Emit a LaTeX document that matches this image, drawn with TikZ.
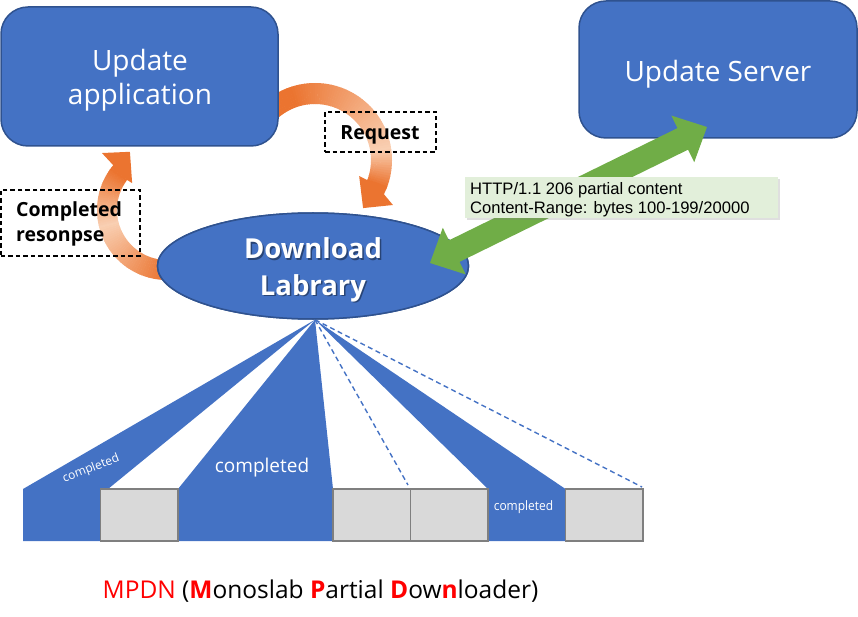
\documentclass[tikz,border=0pt]{standalone}
\usepackage{fontspec}
\setmainfont{Open Sans}
\newfontfamily\arialf{Liberation Sans}
\usetikzlibrary{calc,shapes.geometric,shadows}
\definecolor{boxblue}{HTML}{4472C4}
\definecolor{edgeblue}{HTML}{2F528F}
\definecolor{orA}{HTML}{EB7430}
\definecolor{peach}{HTML}{F9CFB2}
\definecolor{grn}{HTML}{70AD47}
\definecolor{lblgrn}{HTML}{E2EFDA}
\definecolor{cellgray}{HTML}{D9D9D9}
\definecolor{celledge}{HTML}{7F7F7F}
\definecolor{mpred}{HTML}{FF0000}
\begin{document}
\begin{tikzpicture}[x=1pt,y=-1pt,
  bigbox/.style={draw=edgeblue, line width=1.5pt, fill=boxblue, rounded corners=27pt, inner sep=0pt},
  whitetxt/.style={text=white, inner sep=0pt, anchor=base, font=\fontsize{28}{34}\selectfont},
  libtxt/.style={text=white, inner sep=0pt, anchor=base, font=\fontsize{27.5}{34}\selectfont\bfseries},
  libshadow/.style={text=black, opacity=0.4, inner sep=0pt, anchor=base, font=\fontsize{27.5}{34}\selectfont\bfseries},
  dbox/.style={draw=black, line width=1.6pt, dash pattern=on 4.5pt off 3pt, inner sep=0pt},
  boldlbl/.style={text=black, inner sep=0pt, font=\fontsize{19.5}{25}\selectfont\bfseries},
  cellbox/.style={minimum width=77.5pt, minimum height=52pt, anchor=north west, inner sep=0pt, outer sep=0pt},
  graycell/.style={fill=cellgray, draw=celledge, line width=1.8pt},
  fanfill/.style={fill=boxblue},
  fandash/.style={draw=boxblue, line width=1.4pt, dash pattern=on 5pt off 3.5pt},
  cmptxt/.style={text=white, inner sep=0pt},
  httptxt/.style={inner sep=0pt, anchor=base west, font=\arialf\fontsize{16.6}{19}\selectfont}
]
\useasboundingbox (0,0) rectangle (858,617);

% ---------- orange circular arrows ----------
\coordinate (oc1) at (315,160);
\coordinate (oc2) at (167,210);
\foreach \a in {-140,-138,...,20} {
  \pgfmathsetmacro\b{\a+2.4}
  \pgfmathsetmacro\p{\a<(-10) ? min(100,(-10-(\a))) : min(100,(\a+10)*100/30)}
  \fill[orA!\p!peach] ($(oc1)+(\a:56)$) -- ($(oc1)+(\a:77)$) -- ($(oc1)+(\b:77)$) -- ($(oc1)+(\b:56)$) -- cycle;
}
\fill[orA] ($(oc1)+(21:56)$) -- ($(oc1)+(20:47)$) -- ($(oc1)+(45:68)$) -- ($(oc1)+(30:90)$) -- ($(oc1)+(26.4:77)$) -- ($(oc1)+(21:77)$) -- cycle;

\foreach \a in {85,87,...,215} {
  \pgfmathsetmacro\b{\a+2.4}
  \pgfmathsetmacro\p{\a<165 ? min(100,(165-\a)*100/75) : min(100,(\a-165)*100/50)}
  \fill[orA!\p!peach] ($(oc2)+(\a:50)$) -- ($(oc2)+(\a:70)$) -- ($(oc2)+(\b:70)$) -- ($(oc2)+(\b:50)$) -- cycle;
}
\fill[orA] ($(oc2)+(217:50)$) -- ($(oc2)+(217.6:44)$) -- ($(oc2)+(237.5:69)$) -- ($(oc2)+(221.2:86.5)$) -- ($(oc2)+(219.8:70)$) -- ($(oc2)+(217:70)$) -- cycle;

% ---------- main shapes ----------
\node[bigbox, minimum width=277pt, minimum height=139pt] (app) at (139.5,76.5) {};
\node[bigbox, minimum width=278pt, minimum height=137pt] (srv) at (718,69.5) {};
\node[ellipse, draw=edgeblue, line width=1.5pt, fill=boxblue, minimum width=311pt, minimum height=106pt, inner sep=0pt] (lib) at (313,266) {};

% ---------- bar cells (positions) ----------
\foreach \i/\x in {1/23,2/100.5,3/178,4/255.5,5/333,6/410.5,7/488,8/565.5}
  \path node[cellbox] (c\i) at (\x,489) {};
\coordinate (apex) at ($(lib.south)+(2,0)$);

% fans
\fill[fanfill] (apex) -- (c1.north west) -- (c1.south west) -- (c1.south east) -- (c1.north east) -- ($(c2.north west)+(7.5,0)$) -- cycle;
\fill[fanfill] (apex) -- (c3.north west) -- (c3.south west) -- (c4.south east) -- (c4.north east) -- cycle;
\fill[fanfill] (apex) -- (c7.north west) -- (c7.south west) -- (c7.south east) -- (c7.north east) -- cycle;
\draw[fandash] (apex) -- ($(c6.north west)+(-2.5,-4)$);
\draw[fandash] (apex) -- ($(c8.north east)+(-1,-2)$);
\foreach \i in {2,5,6,8}
  \draw[graycell] (c\i.north west) rectangle (c\i.south east);

% redraw ellipse over the fan apex
\node[ellipse, draw=edgeblue, line width=1.5pt, fill=boxblue, minimum width=311pt, minimum height=106pt, inner sep=0pt] (lib2) at (lib.center) {};

% completed labels
\node[cmptxt, font=\fontsize{12}{14}\selectfont, rotate=21] (cmpa) at (91,469) {completed};
\node[cmptxt, font=\fontsize{19}{22}\selectfont] (cmpb) at (262,468) {completed};
\node[cmptxt, font=\fontsize{13}{15}\selectfont, xscale=0.92] (cmpc) at (523.5,507) {completed};

% ---------- dashed label boxes ----------
\node[dbox, minimum width=111pt, minimum height=40pt] (req) at (380.5,132) {};
\node[boldlbl, anchor=base] (reqtxt) at (380,139.5) {Request};
\node[dbox, minimum width=139pt, minimum height=66pt] (cmp) at (70.4,223) {};
\node[boldlbl, anchor=base west] (cmptxt1) at (16,217) {Completed};
\node[boldlbl, anchor=base west] (cmptxt2) at (16,242) {resonpse};

% ---------- green double arrow ----------
\coordinate (ga) at (430,263);
\coordinate (gb) at (707,127);
\coordinate (h1) at ($(ga)!27pt!(gb)$);
\coordinate (h2) at ($(gb)!27pt!(ga)$);
\fill[grn] (ga) -- ($(h1)!26pt!90:(gb)$) -- ($(h1)!12pt!90:(gb)$) -- ($(h2)!12pt!-90:(ga)$) -- ($(h2)!26pt!-90:(ga)$) -- (gb)
  -- ($(h2)!26pt!90:(ga)$) -- ($(h2)!12pt!90:(ga)$) -- ($(h1)!12pt!-90:(gb)$) -- ($(h1)!26pt!-90:(gb)$) -- cycle;

% ---------- http label ----------
\node[fill=lblgrn, minimum width=313pt, minimum height=41pt, inner sep=0pt,
      drop shadow={opacity=0.25, shadow xshift=2pt, shadow yshift=-2pt}] (http) at (621.5,197.5) {};
\node[httptxt] (http1) at (470,195) {HTTP/1.1 206 partial content};
\node[httptxt] (http2) at (470,214) {Content-Range: bytes 100-199/20000};

% ---------- box texts ----------
\node[whitetxt] (apptxt1) at (140,71) {Update};
\node[whitetxt] (apptxt2) at (140,105) {application};
\node[whitetxt] (srvtxt) at (718,82) {Update Server};
\node[libshadow] (libsh1) at (314.5,260.5) {Download};
\node[libshadow] (libsh2) at (314.5,296.5) {Labrary};
\node[libtxt] (libtxt1) at (313,259) {Download};
\node[libtxt] (libtxt2) at (313,295) {Labrary};

% ---------- caption ----------
\node[inner sep=0pt, anchor=base, font=\fontsize{24.5}{30}\selectfont] (cap) at (320.5,598)
  {{\color{mpred}MPDN} ({\color{mpred}\bfseries M}onoslab {\color{mpred}\bfseries P}artial {\color{mpred}\bfseries D}ow{\color{mpred}\bfseries n}loader)};
\end{tikzpicture}
\end{document}
